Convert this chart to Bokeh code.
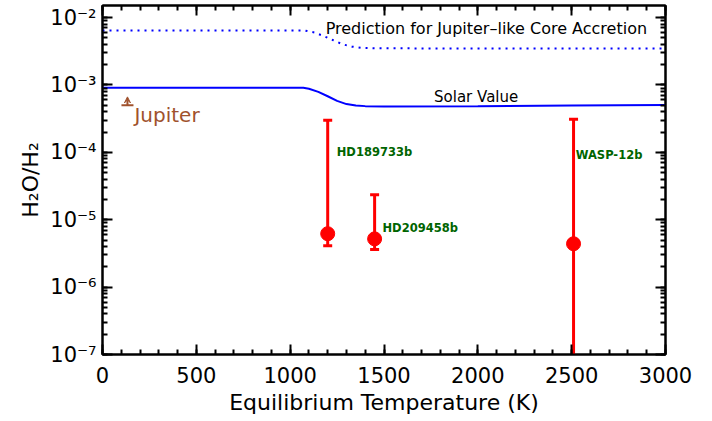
from bokeh.plotting import figure
from bokeh.models import (LogAxis, LinearAxis, LogTicker, SingleIntervalTicker,
                          CustomJSTickFormatter, Range1d, ColumnDataSource, Arrow, VeeHead)
from bokeh.core.properties import value
from bokeh.embed import file_html
from bokeh.resources import INLINE

# ---- data ----
solar_T = [0, 1000, 1070, 1100, 1150, 1200, 1250, 1300, 1350, 1400, 1500, 2000, 2500, 3000]
solar_val = [9.1e-4, 9.1e-4, 9.1e-4, 8.8e-4, 7.9e-4, 6.8e-4, 5.8e-4, 5.2e-4, 4.95e-4, 4.85e-4,
             4.8e-4, 4.85e-4, 4.95e-4, 5.05e-4]
pred_T = [0, 1000, 1080, 1130, 1180, 1230, 1280, 1330, 1380, 1450, 2000, 3000]
pred_val = [6.4e-3, 6.4e-3, 6.4e-3, 6.0e-3, 5.3e-3, 4.6e-3, 4.0e-3, 3.7e-3, 3.55e-3, 3.5e-3,
            3.47e-3, 3.46e-3]
planets = ["HD189733b", "HD209458b", "WASP-12b"]
planet_T = [1200, 1450, 2510]
planet_val = [6.2e-6, 5.2e-6, 4.4e-6]
planet_hi = [3.0e-4, 2.35e-5, 3.1e-4]
planet_lo = [4.1e-6, 3.6e-6, 1e-9]
label_T = [1248, 1492, 2522]
label_val = [1.0e-4, 7.6e-6, 9.0e-5]
jupiter_T = [133]
jupiter_val = [5.0e-4]

FONT = "DejaVu Sans"

p = figure(width=705, height=417, x_range=Range1d(0, 3000), y_range=Range1d(1e-7, 1.51e-2),
           y_axis_type="log", output_backend="svg", toolbar_location=None,
           min_border_left=102, min_border_right=40, min_border_top=5, min_border_bottom=50)
p.grid.visible = False
p.outline_line_color = "black"
p.outline_line_width = 2

def style(ax, labels=True):
    ax.axis_line_width = 2
    ax.major_tick_in = 10
    ax.major_tick_out = 0
    ax.minor_tick_in = 5
    ax.minor_tick_out = 0
    ax.major_tick_line_width = 2
    ax.minor_tick_line_width = 2
    ax.major_label_text_font = FONT
    ax.major_label_text_font_size = "21px"
    ax.major_label_text_color = "black"
    if not labels:
        ax.major_label_text_alpha = 0
        ax.major_label_text_font_size = "1px"
        ax.major_label_standoff = 0

fmt = CustomJSTickFormatter(code="""
const sup = {'-':'\u207b','0':'\u2070','1':'\u00b9','2':'\u00b2','3':'\u00b3','4':'\u2074','5':'\u2075','6':'\u2076','7':'\u2077','8':'\u2078','9':'\u2079'};
const e = Math.round(Math.log10(tick)).toString();
return '10' + e.split('').map(c => sup[c]).join('');
""")

yt = LogTicker(num_minor_ticks=10)
xt = SingleIntervalTicker(interval=500, num_minor_ticks=5)
p.yaxis[0].ticker = yt
p.yaxis[0].formatter = fmt
p.xaxis[0].ticker = xt
style(p.yaxis[0])
style(p.xaxis[0])
p.xaxis[0].major_label_standoff = 12
p.yaxis[0].major_label_standoff = 6
p.xaxis[0].axis_label = "Equilibrium Temperature (K)"
p.yaxis[0].axis_label = "H\u2082O/H\u2082"
for ax in (p.xaxis[0], p.yaxis[0]):
    ax.axis_label_text_font = FONT
    ax.axis_label_text_font_size = "22px"
    ax.axis_label_text_font_style = "normal"
    ax.axis_label_text_color = "black"
    ax.axis_label_standoff = 4

ra = LogAxis(ticker=LogTicker(num_minor_ticks=10))
style(ra, labels=False)
p.add_layout(ra, "right")
ta = LinearAxis(ticker=SingleIntervalTicker(interval=500, num_minor_ticks=5))
style(ta, labels=False)
p.add_layout(ta, "above")

# curves
p.line(solar_T, solar_val, line_color="blue", line_width=2)
p.line(pred_T, pred_val, line_color="blue", line_width=2, line_dash="2 5")

p.text([1991], [6.6e-4], text=["Solar Value"], text_font=value(FONT), text_font_size="15px",
       text_align="center", text_baseline="middle", text_color="black")
p.text([1189], [6.9e-3], text=["Prediction for Jupiter\u2013like Core Accretion"], text_font=value(FONT),
       text_font_size="16px", text_align="left", text_baseline="middle", text_color="black")

# error bars
src = ColumnDataSource(dict(x=planet_T, y=planet_val, hi=planet_hi, lo=planet_lo))
p.segment(x0="x", y0="lo", x1="x", y1="hi", source=src, line_color="red", line_width=3)
p.dash(x="x", y="hi", source=src, size=9, line_color="red", line_width=3)
p.dash(x="x", y="lo", source=src, size=9, line_color="red", line_width=3)
p.scatter(x="x", y="y", source=src, size=14, color="red")

p.text(label_T, label_val, text=planets, text_font=value(FONT), text_font_size="11.5px",
       text_font_style="bold", text_color="#006400", text_baseline="middle")

# Jupiter
p.dash(jupiter_T, jupiter_val, size=12, line_color="#A0522D", line_width=2)
p.add_layout(Arrow(end=VeeHead(size=6, line_color="#A0522D", fill_color="#A0522D", line_width=1),
                   x_start=jupiter_T[0], y_start=jupiter_val[0], x_end=jupiter_T[0], y_end=jupiter_val[0] * 1.33,
                   line_color="#A0522D", line_width=2))
p.text([170], [3.6e-4], text=["Jupiter"], text_font=value(FONT), text_font_size="20px",
       text_color="#A0522D", text_baseline="middle")

open("out.html", "w").write(file_html(p, INLINE))
